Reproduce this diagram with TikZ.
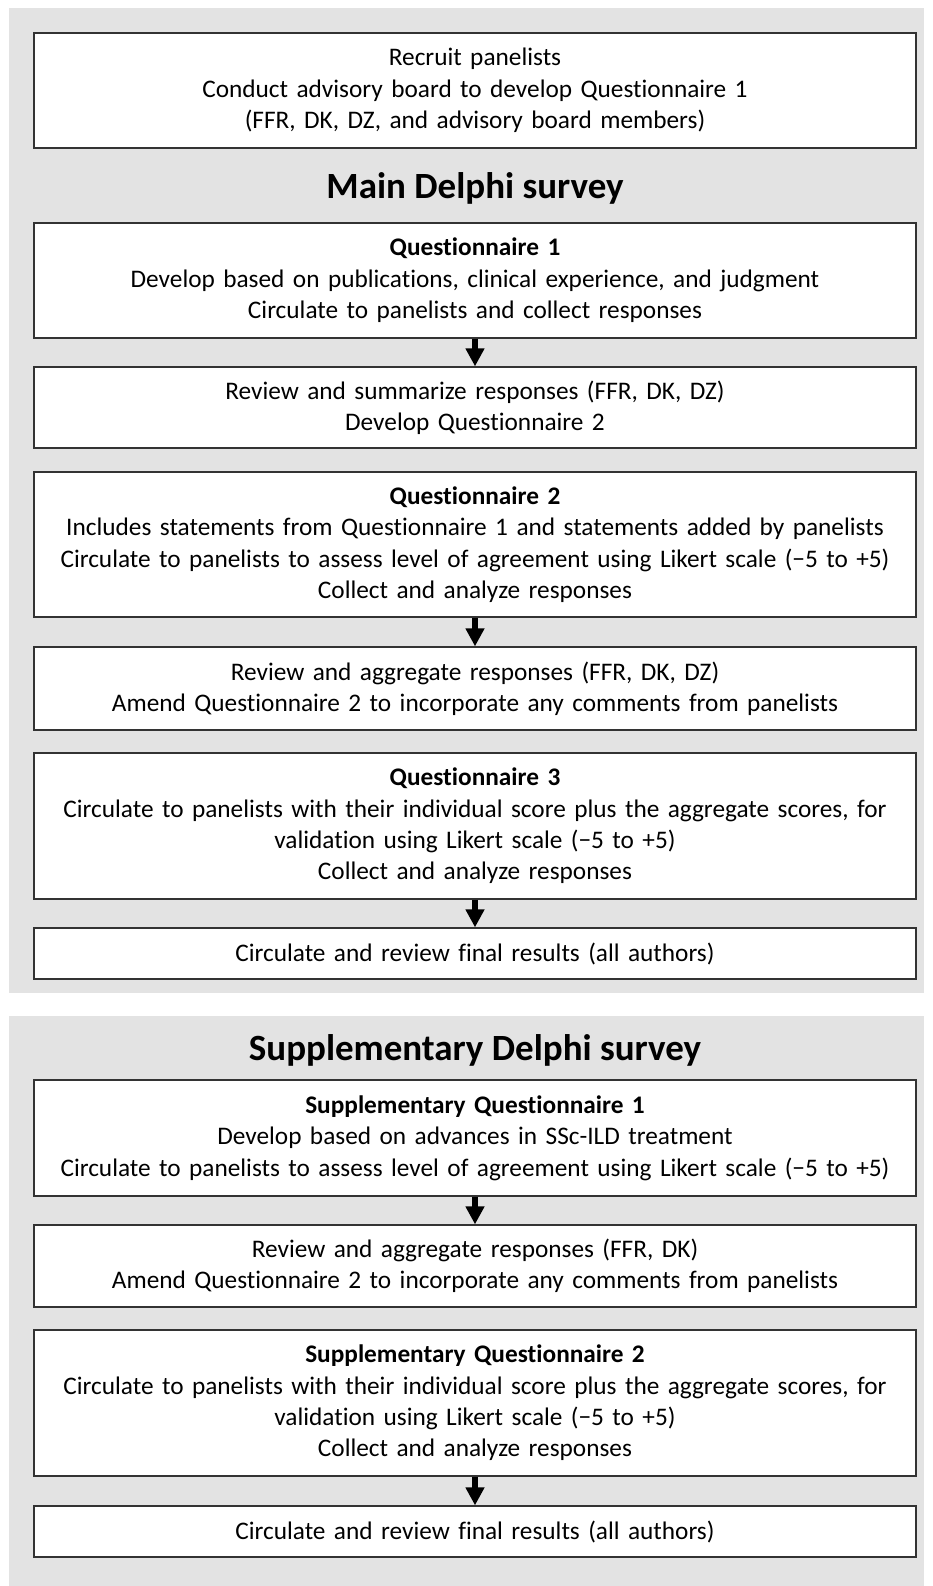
\documentclass[tikz,border=0pt]{standalone}
\usepackage{fontspec}
\setmainfont{Carlito}[Ligatures={NoCommon}]
\usetikzlibrary{arrows.meta}

\tikzset{
  riquadro/.style={draw=black!80, line width=1.3pt, fill=white, text width=870pt,
    align=center, inner xsep=6pt, inner ysep=0pt, minimum height=#1,
    font=\fontsize{25.3}{31.4}\selectfont},
  titolo/.style={font=\fontsize{37}{44}\selectfont\bfseries},
  freccia/.style={line width=6pt, -{Triangle[width=18pt,length=18pt]}}
}

\begin{document}
\begin{tikzpicture}[x=1pt,y=-1pt]

%Fondo grigio dei due pannelli
\useasboundingbox (0,0) rectangle (933,1586);
\fill[black!11] (9,8) rectangle (924,993);
\fill[black!11] (9,1016) rectangle (924,1586);

%Indagine principale
\node[riquadro=115pt] (recluta) at (475,90.5) {Recruit panelists\\Conduct advisory board to develop Questionnaire 1\\(FFR, DK, DZ, and advisory board members)};
\node[titolo] (main) at (475,188) {Main Delphi survey};
\node[riquadro=115pt] (q1) at (475,280.5) {\textbf{Questionnaire 1}\\Develop based on publications, clinical experience, and judgment\\Circulate to panelists and collect responses};
\node[riquadro=81pt] (rev1) at (475,407.5) {Review and summarize responses (FFR, DK, DZ)\\Develop Questionnaire 2};
\node[riquadro=145pt] (q2) at (475,544.5) {\textbf{Questionnaire 2}\\Includes statements from Questionnaire 1 and statements added by panelists\\Circulate to panelists to assess level of agreement using Likert scale (−5 to +5)\\Collect and analyze responses};
\node[riquadro=83pt] (rev2) at (475,688.5) {Review and aggregate responses (FFR, DK, DZ)\\Amend Questionnaire 2 to incorporate any comments from panelists};
\node[riquadro=146pt] (q3) at (475,826) {\textbf{Questionnaire 3}\\Circulate to panelists with their individual score plus the aggregate scores, for\\validation using Likert scale (−5 to +5)\\Collect and analyze responses};
\node[riquadro=51pt] (fine1) at (475,953.5) {Circulate and review final results (all authors)};

%Indagine supplementare
\node[titolo] (supp) at (475,1050) {Supplementary Delphi survey};
\node[riquadro=116pt] (s1) at (475,1138) {\textbf{Supplementary Questionnaire 1}\\Develop based on advances in SSc-ILD treatment\\Circulate to panelists to assess level of agreement using Likert scale (−5 to +5)};
\node[riquadro=82pt] (rev3) at (475,1266) {Review and aggregate responses (FFR, DK)\\Amend Questionnaire 2 to incorporate any comments from panelists};
\node[riquadro=146pt] (s2) at (475,1403) {\textbf{Supplementary Questionnaire 2}\\Circulate to panelists with their individual score plus the aggregate scores, for\\validation using Likert scale (−5 to +5)\\Collect and analyze responses};
\node[riquadro=51pt] (fine2) at (475,1531.5) {Circulate and review final results (all authors)};

%Frecce
\draw[freccia] (q1.south) -- (rev1.north);
\draw[freccia] (q2.south) -- (rev2.north);
\draw[freccia] (q3.south) -- (fine1.north);
\draw[freccia] (s1.south) -- (rev3.north);
\draw[freccia] (s2.south) -- (fine2.north);

\end{tikzpicture}
\end{document}
